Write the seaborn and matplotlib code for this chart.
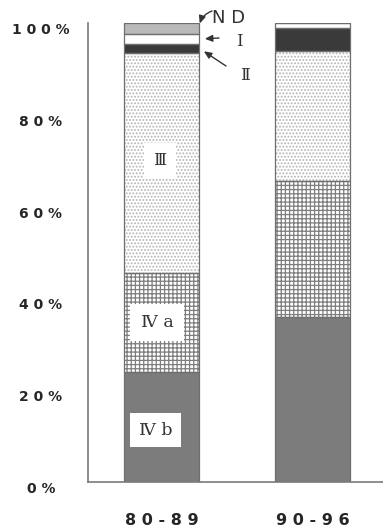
import matplotlib
matplotlib.use("Agg")
import matplotlib.pyplot as plt
import seaborn as sns

# Stage distribution (%) for two diagnosis periods
periods = ["8 0 - 8 9", "9 0 - 9 6"]
stage_ivb = [24.0, 36.0]
stage_iva = [21.5, 29.5]
stage_iii = [48.0, 28.5]
stage_ii = [2.0, 5.0]
stage_i = [2.0, 1.0]
stage_nd = [2.5, 0.0]

y_ticks = [0, 20, 40, 60, 80, 100]
y_tick_labels = ["0 %", "2 0 %", "4 0 %", "6 0 %", "8 0 %", "1 0 0 %"]

sns.set_style("white")
plt.rcParams["hatch.linewidth"] = 0.9

fig = plt.figure(figsize=(3.83, 5.28), dpi=100)
ax = fig.add_axes([88 / 383, 46 / 528, 1 - 88 / 383, (482 - 23) / 528])

# (values, face colour, hatch, hatch colour), stacked bottom to top
layers = [
    (stage_ivb, "#7c7c7c", None, "#7c7c7c"),
    (stage_iva, "#ffffff", "++++", "#7e7e7e"),
    (stage_iii, "#ffffff", ".....", "#b4b4b4"),
    (stage_ii, "#3a3a3a", None, "#3a3a3a"),
    (stage_i, "#ffffff", None, "#ffffff"),
    (stage_nd, "#b9b9b9", None, "#b9b9b9"),
]

bottoms = [0.0] * len(periods)
segment_bottoms = []
for values, face, hatch, hcol in layers:
    sns.barplot(x=periods, y=values, bottom=bottoms, color=face, saturation=1,
                edgecolor=hcol, linewidth=0, hatch=hatch, width=0.5,
                errorbar=None, ax=ax)
    segment_bottoms.append(list(bottoms))
    bottoms = [b + v for b, v in zip(bottoms, values)]

# segment outlines
for (values, *_), seg_bottom in zip(layers, segment_bottoms):
    sns.barplot(x=periods, y=values, bottom=seg_bottom, color="#6e6e6e",
                fill=False, linewidth=0.9, width=0.5, errorbar=None, ax=ax)

ax.set_xlim(-73.5 / 151, (383 - 161.5) / 151)
ax.set_ylim(0, 100)

for side in ["top", "right"]:
    ax.spines[side].set_visible(False)
for side in ["left", "bottom"]:
    ax.spines[side].set_color("#7a7a7a")
    ax.spines[side].set_linewidth(1.2)

ax.set_yticks(y_ticks)
ax.set_yticklabels(y_tick_labels, fontsize=10, fontweight="bold",
                   ha="center", va="top")
ax.tick_params(axis="y", direction="in", length=3, width=0.8,
               color="#8a8a8a", pad=34)

ax.set_xticks([0, 1])
ax.set_xticklabels(periods, fontsize=11.5, fontweight="bold")
ax.tick_params(axis="x", length=0, pad=22)
ax.set_xticks([0.5], minor=True)
ax.tick_params(axis="x", which="minor", direction="in", length=3,
               width=0.8, color="#8a8a8a")
ax.set_xlabel("")
ax.set_ylabel("")

serif = ["DejaVu Serif", "Noto Sans CJK JP"]
box = dict(boxstyle="square,pad=0.55", fc="white", ec="none")

# stage labels inside the first bar
iii_mid = segment_bottoms[2][0] + stage_iii[0] * 0.5
ax.text(-0.01, iii_mid + 0.5, "Ⅲ", ha="center", va="center",
        fontsize=12, family=serif, color="#333333", bbox=box)
ax.text(-0.03, segment_bottoms[1][0] + stage_iva[0] * 0.5, "Ⅳ a",
        ha="center", va="center", fontsize=12.5, family=serif,
        color="#333333", bbox=dict(boxstyle="square,pad=0.6", fc="white", ec="none"))
ax.text(-0.04, stage_ivb[0] * 0.47, "Ⅳ b", ha="center", va="center",
        fontsize=12.5, family=serif, color="#333333",
        bbox=dict(boxstyle="square,pad=0.5", fc="white", ec="none"))

# call-outs for the thin top segments
edge = 0.25
arrow = dict(arrowstyle="-|>,head_length=0.45,head_width=0.2", lw=1.0,
             color="#333333", shrinkA=0, shrinkB=4)
nd_top = segment_bottoms[5][0] + stage_nd[0]
i_mid = segment_bottoms[4][0] + stage_i[0] * 0.5
ii_mid = segment_bottoms[3][0] + stage_ii[0] * 0.5

ax.annotate("", xy=(edge, nd_top - 0.4), xytext=(212, 517),
            textcoords="figure pixels",
            arrowprops=dict(arrow, shrinkB=1,
                            connectionstyle="arc3,rad=0.25"))
ax.annotate("", xy=(edge, i_mid), xytext=(219, 490),
            textcoords="figure pixels", arrowprops=arrow)
ax.annotate("", xy=(edge, ii_mid), xytext=(226, 462),
            textcoords="figure pixels", arrowprops=arrow)

fig.text(229 / 383, 1 - 18 / 528, "N D", ha="center", va="center",
         fontsize=13, color="#333333")
fig.text(239 / 383, 1 - 41 / 528, "Ⅰ", ha="center", va="center",
         fontsize=12, family=serif, color="#333333")
fig.text(245 / 383, 1 - 75 / 528, "Ⅱ", ha="center", va="center",
         fontsize=12, family=serif, color="#333333")

fig.savefig("out.png", dpi=100)
